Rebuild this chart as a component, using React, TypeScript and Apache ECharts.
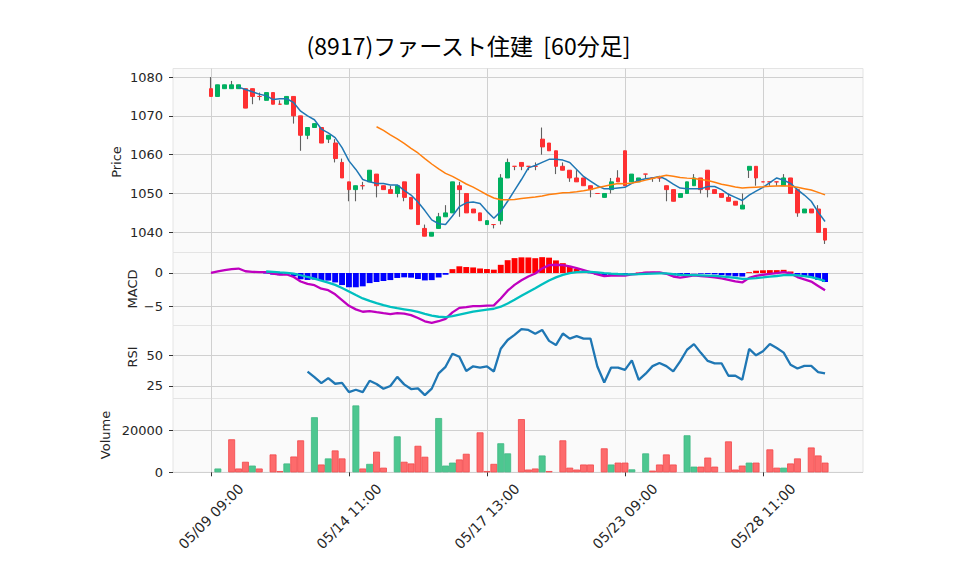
import React, { useEffect, useRef } from 'react';
import * as echarts from 'echarts';

// ---- data ----
const days = ['05/09', '05/10', '05/13', '05/14', '05/15', '05/16', '05/17', '05/20', '05/21', '05/22', '05/23', '05/24', '05/27', '05/28', '05/29'];
const hours = ['09:00', '10:00', '11:00', '12:00', '13:00', '14:00'];
const xTickLabels = ['05/09 09:00', '05/14 11:00', '05/17 13:00', '05/23 09:00', '05/28 11:00'];

const opens = [
  1077, 1075, 1077, 1077, 1077, 1077, 1077, 1075, 1074, 1076,
  1073, 1073, 1075, 1070, 1065, 1067, 1067, 1064, 1063, 1058,
  1053, 1051, 1052, 1053, 1055, 1052, 1051, 1050, 1053, 1049,
  1055, 1041, 1039, 1041, 1044, 1045, 1052, 1050, 1046, 1045,
  1042, 1042, 1043, 1054, 1057, 1058, 1057, 1057, 1064, 1063,
  1061, 1057, 1056, 1054, 1054, 1052, 1050, 1049, 1051, 1054,
  1061, 1053, 1053, 1055, 1054, 1054, 1052, 1051, 1049, 1050,
  1052, 1054, 1056, 1051, 1050, 1049, 1048, 1046, 1056, 1057,
  1053, 1053, 1053, 1052, 1054, 1051, 1045, 1046, 1046, 1041,
];
const highs = [
  1080, 1078, 1078, 1079, 1078, 1077, 1077, 1076, 1076, 1076,
  1074, 1075, 1075, 1070, 1067, 1068, 1067, 1065, 1064, 1059,
  1053, 1052, 1053, 1056, 1055, 1052, 1052, 1052, 1053, 1049,
  1055, 1042, 1040, 1045, 1047, 1053, 1053, 1050, 1046, 1045,
  1043, 1042, 1055, 1059, 1057, 1058, 1057, 1058, 1067, 1063,
  1061, 1058, 1056, 1056, 1054, 1052, 1050, 1050, 1054, 1056,
  1061, 1055, 1054, 1055, 1054, 1054, 1052, 1051, 1050, 1053,
  1055, 1054, 1056, 1051, 1050, 1050, 1048, 1050, 1057, 1057,
  1053, 1053, 1053, 1055, 1054, 1051, 1046, 1046, 1047, 1041,
];
const lows = [
  1075, 1075, 1077, 1077, 1077, 1072, 1073, 1074, 1074, 1073,
  1073, 1073, 1068, 1061, 1064, 1067, 1063, 1063, 1058, 1054,
  1048, 1048, 1051, 1053, 1049, 1051, 1050, 1049, 1048, 1046,
  1042, 1039, 1039, 1041, 1044, 1045, 1044, 1045, 1045, 1043,
  1042, 1041, 1042, 1054, 1056, 1056, 1056, 1056, 1060, 1061,
  1055, 1056, 1053, 1053, 1052, 1049, 1050, 1049, 1050, 1053,
  1052, 1053, 1053, 1054, 1053, 1053, 1048, 1048, 1049, 1050,
  1052, 1050, 1049, 1050, 1049, 1048, 1047, 1046, 1054, 1052,
  1053, 1052, 1052, 1052, 1050, 1044, 1045, 1045, 1040, 1037,
];
const closes = [
  1075, 1078, 1078, 1078, 1078, 1072, 1075, 1075, 1076, 1073,
  1073, 1075, 1070, 1065, 1067, 1068, 1063, 1065, 1059, 1054,
  1051, 1052, 1052, 1056, 1052, 1051, 1050, 1052, 1049, 1046,
  1042, 1039, 1040, 1044, 1045, 1053, 1051, 1045, 1045, 1043,
  1043, 1042, 1054, 1058, 1057, 1057, 1057, 1057, 1062, 1061,
  1057, 1056, 1054, 1053, 1052, 1051, 1050, 1050, 1053, 1053,
  1052, 1055, 1054, 1055, 1054, 1054, 1051, 1048, 1050, 1053,
  1054, 1051, 1051, 1050, 1049, 1048, 1047, 1047, 1057, 1054,
  1053, 1053, 1053, 1054, 1050, 1045, 1046, 1045, 1040, 1038,
];
const volumes = [
  0, 1800, 0, 15700, 1800, 5000, 3200, 1800, 0, 8500,
  600, 4200, 7500, 15200, 0, 26200, 3700, 6600, 10400, 6600,
  0, 31800, 1800, 4000, 9800, 2200, 0, 17100, 5000, 4200,
  12600, 7400, 0, 25800, 3200, 4600, 6100, 8800, 0, 19000,
  600, 4000, 13800, 9000, 0, 25300, 1300, 1800, 8000, 600,
  0, 15200, 2200, 1300, 3700, 3700, 0, 11400, 3700, 4600,
  4600, 1400, 0, 9000, 800, 3700, 8500, 3700, 0, 17600,
  2700, 2700, 7000, 2700, 0, 14700, 1300, 3200, 4600, 4600,
  0, 10900, 2200, 2200, 4200, 6600, 0, 11800, 8000, 4600,
];
const priceTicks = [1040, 1050, 1060, 1070, 1080];
const macdTicks = [-5, 0];
const rsiTicks = [25, 50];
const volumeTicks = [0, 20000];
const maPeriods = [5, 25];

// ---- derived series (standard indicator definitions applied to the read closes) ----
const PAD = 5;
const times = days.flatMap((d) => hours.map((h) => `${d} ${h}`));
const cats = [
  ...Array.from({ length: PAD }, (_, i) => `pre${i}`),
  ...times,
  ...Array.from({ length: PAD }, (_, i) => `post${i}`),
];
const tickIdx = new Set(xTickLabels.map((l) => times.indexOf(l) + PAD));
const padArr = (arr: any[]) => [
  ...Array(PAD).fill('-'),
  ...arr.map((v) => (v == null ? '-' : v)),
  ...Array(PAD).fill('-'),
];

const rolling = (vals: number[], n: number) =>
  vals.map((_, i) => {
    if (i < n - 1) return null;
    let s = 0;
    for (let k = i - n + 1; k <= i; k++) s += vals[k];
    return s / n;
  });
const ema = (vals: number[], span: number) => {
  const a = 2 / (span + 1);
  const out: number[] = [];
  vals.forEach((v, i) => out.push(i === 0 ? v : a * v + (1 - a) * out[i - 1]));
  return out;
};
const ema12 = ema(closes, 12);
const ema26 = ema(closes, 26);
const macd = ema12.map((v, i) => v - ema26[i]);
const sigFull = ema(macd, 9);
const signal = sigFull.map((v, i) => (i < 8 ? null : v));
const hist = macd.map((v, i) => (i < 8 ? null : v - sigFull[i]));
const rsi = closes.map((_, i) => {
  if (i < 14) return null;
  let g = 0;
  let l = 0;
  for (let k = i - 13; k <= i; k++) {
    const d = closes[k] - closes[k - 1];
    if (d > 0) g += d;
    else l -= d;
  }
  return g + l === 0 ? 50 : (100 * g) / (g + l);
});

const UP = '#00b060';
const DOWN = '#fe3032';
const VUP = '#4dc790';
const VDOWN = '#fd6b6c';
const WICK = '#606060';
const GRID = '#d0d0d0';
const FONT = 'DejaVu Sans';
const EMPTY4 = ['-', '-', '-', '-'];

const bodyData = padArr(
  opens.map((o, i) => {
    const c = closes[i];
    const col = c > o ? UP : DOWN;
    return {
      value: [o, c, Math.min(o, c), Math.max(o, c)],
      itemStyle: { color: col, color0: col, borderColor: col, borderColor0: col },
    };
  })
).map((v) => (v === '-' ? EMPTY4 : v));
const wickData = padArr(lows.map((l, i) => [l, highs[i], l, highs[i]])).map((v) =>
  v === '-' ? EMPTY4 : v
);
const volData = padArr(
  volumes.map((v, i) => {
    const up = i === 0 ? closes[0] > opens[0] : closes[i] > closes[i - 1];
    return {
      value: v,
      itemStyle: {
        color: up ? VUP : VDOWN,
        borderColor: up ? '#3fb783' : '#f2484a',
        borderWidth: v > 0 ? 0.8 : 0,
      },
    };
  })
);
const histData = padArr(
  hist.map((h) => (h == null ? null : { value: h, itemStyle: { color: h >= 0 ? '#ff0000' : '#0000ff' } }))
);

const L = 173;
const W = 690;
const grids = [
  { top: 68.5, height: 184 },
  { top: 252.5, height: 73 },
  { top: 325.5, height: 73 },
  { top: 398.5, height: 73.8 },
].map((g) => ({
  ...g,
  left: L,
  width: W,
  show: true,
  backgroundColor: '#fafafa',
  borderColor: '#e4e4e4',
  borderWidth: 1,
}));

const xAxisFor = (gi: number, bottom: boolean) => ({
  type: 'category',
  gridIndex: gi,
  data: cats,
  boundaryGap: true,
  axisLine: { show: false },
  axisTick: {
    show: bottom,
    alignWithLabel: true,
    interval: (i: number) => tickIdx.has(i),
    length: 4,
    lineStyle: { color: '#333', width: 1 },
  },
  axisLabel: {
    show: bottom,
    interval: (i: number) => tickIdx.has(i),
    rotate: 45,
    align: 'center',
    verticalAlign: 'middle',
    margin: 44,
    fontFamily: FONT,
    fontSize: 14,
    color: '#262626',
  },
  splitLine: {
    show: true,
    alignWithLabel: true,
    interval: (i: number) => tickIdx.has(i),
    lineStyle: { color: GRID, width: 1 },
  },
});

const yAxisFor = (gi: number, min: number, max: number, ticks: number[], fmt?: (v: number) => string) => ({
  type: 'value',
  gridIndex: gi,
  min,
  max,
  axisLine: { show: false },
  axisTick: { show: true, length: 4, customValues: ticks, lineStyle: { color: '#333', width: 1 } },
  axisLabel: {
    customValues: ticks,
    margin: 10,
    fontFamily: FONT,
    fontSize: 13,
    color: '#262626',
    formatter: fmt || ((v: number) => String(v)),
  },
  splitLine: { show: true, lineStyle: { color: GRID, width: 1 } },
});

const axisName = (text: string, x: number, y: number) => ({
  type: 'text',
  x,
  y,
  rotation: Math.PI / 2,
  style: {
    text,
    x: 0,
    y: 0,
    font: `13px "${FONT}"`,
    fill: '#262626',
    textAlign: 'center',
    textVerticalAlign: 'middle',
    align: 'center',
    verticalAlign: 'middle',
  },
});

const option: any = {
  animation: false,
  backgroundColor: '#ffffff',
  grid: grids,
  xAxis: [xAxisFor(0, false), xAxisFor(1, false), xAxisFor(2, false), xAxisFor(3, true)],
  yAxis: [
    yAxisFor(0, 1034.8, 1082.2, priceTicks),
    yAxisFor(1, -7.87, 3.07, macdTicks, (v) => (v < 0 ? '\u2212' + Math.abs(v) : String(v))),
    yAxisFor(2, 14.8, 74.3, rsiTicks),
    yAxisFor(3, 0, 35100, volumeTicks),
  ],
  graphic: [
    {
      type: 'text',
      x: 468.5,
      y: 45,
      style: {
        text: '(8917)ファースト住建  [60分足]',
        font: '23px "Noto Sans CJK JP"',
        fill: '#000',
        textAlign: 'center',
        textVerticalAlign: 'middle',
        align: 'center',
        verticalAlign: 'middle',
      },
    },
    axisName('Price', 116, 162),
    axisName('MACD', 132, 289),
    axisName('RSI', 132, 357),
    axisName('Volume', 105, 435),
  ],
  series: [
    {
      name: 'wick',
      type: 'candlestick',
      xAxisIndex: 0,
      yAxisIndex: 0,
      barWidth: 0.1,
      z: 2,
      data: wickData,
      itemStyle: { color: WICK, color0: WICK, borderColor: WICK, borderColor0: WICK, borderWidth: 1.1 },
    },
    {
      name: 'body',
      type: 'candlestick',
      xAxisIndex: 0,
      yAxisIndex: 0,
      barWidth: 4.3,
      z: 3,
      data: bodyData,
      itemStyle: { borderWidth: 1 },
    },
    ...maPeriods.map((n, k) => ({
      name: `MA${n}`,
      type: 'line',
      xAxisIndex: 0,
      yAxisIndex: 0,
      z: 4,
      showSymbol: false,
      data: padArr(rolling(closes, n)),
      lineStyle: { color: k === 0 ? '#1f77b4' : '#ff7f0e', width: 1.5 },
    })),
    {
      name: 'hist',
      type: 'bar',
      xAxisIndex: 1,
      yAxisIndex: 1,
      barWidth: '85%',
      z: 2,
      data: histData,
    },
    {
      name: 'MACD',
      type: 'line',
      xAxisIndex: 1,
      yAxisIndex: 1,
      z: 3,
      showSymbol: false,
      data: padArr(macd),
      lineStyle: { color: '#bf00bf', width: 2.3 },
    },
    {
      name: 'Signal',
      type: 'line',
      xAxisIndex: 1,
      yAxisIndex: 1,
      z: 3,
      showSymbol: false,
      data: padArr(signal),
      lineStyle: { color: '#00bfbf', width: 2.3 },
    },
    {
      name: 'RSI',
      type: 'line',
      xAxisIndex: 2,
      yAxisIndex: 2,
      z: 3,
      showSymbol: false,
      data: padArr(rsi),
      lineStyle: { color: '#1f77b4', width: 2.3 },
    },
    {
      name: 'Volume',
      type: 'bar',
      xAxisIndex: 3,
      yAxisIndex: 3,
      barWidth: '100%',
      z: 2,
      data: volData,
    },
  ],
};

export default function App() {
  const ref = useRef<HTMLDivElement>(null);
  useEffect(() => {
    const chart = echarts.init(ref.current!, null, { renderer: 'svg' });
    chart.setOption(option);
    return () => chart.dispose();
  }, []);
  return (
    <div
      ref={ref}
      style={{ position: 'fixed', left: 0, top: 0, width: 958, height: 575, background: '#fff' }}
    />
  );
}
